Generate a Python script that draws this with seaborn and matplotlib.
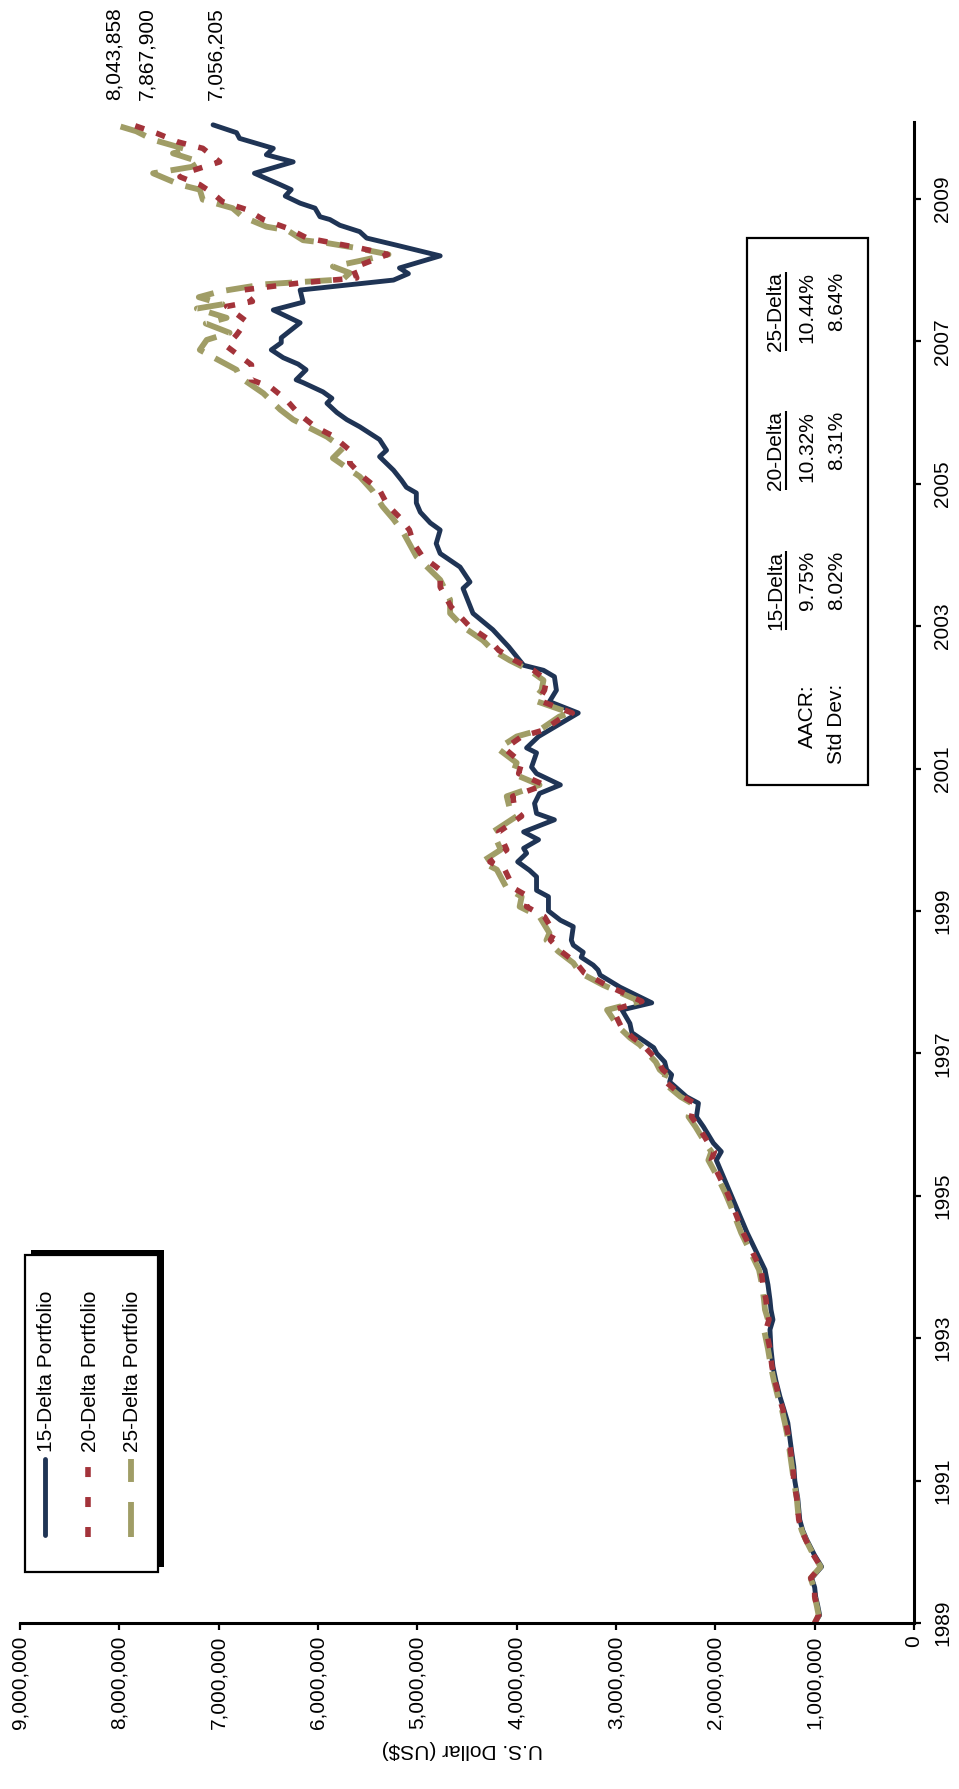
import matplotlib
matplotlib.use("Agg")
import matplotlib.pyplot as plt
import numpy as np
import pandas as pd
import seaborn as sns
from matplotlib.patches import Rectangle

# ---------------- data (values in millions of US$) ----------------
years_15 = [1989.00, 1989.11, 1989.25, 1989.37, 1989.50, 1989.63, 1989.79, 1989.95, 1990.17, 1990.30,
            1990.45, 1990.60, 1990.75, 1991.00, 1991.20, 1991.39, 1991.60, 1991.81, 1992.00, 1992.18,
            1992.40, 1992.60, 1992.85, 1993.12, 1993.26, 1993.40, 1993.54, 1993.75, 1993.96, 1994.19,
            1994.48, 1994.84, 1995.04, 1995.27, 1995.50, 1995.62, 1995.74, 1995.97, 1996.11, 1996.30,
            1996.39, 1996.60, 1996.70, 1996.77, 1996.88, 1997.00, 1997.08, 1997.29, 1997.42, 1997.61,
            1997.71, 1997.93, 1998.10, 1998.17, 1998.24, 1998.35, 1998.42, 1998.52, 1998.59, 1998.78,
            1998.87, 1999.00, 1999.20, 1999.29, 1999.48, 1999.57, 1999.69, 1999.81, 1999.88, 2000.00,
            2000.11, 2000.28, 2000.37, 2000.51, 2000.65, 2000.77, 2000.93, 2001.02, 2001.22, 2001.29,
            2001.45, 2001.64, 2001.78, 2001.94, 2002.10, 2002.29, 2002.38, 2002.45, 2002.71, 2002.95,
            2003.18, 2003.53, 2003.62, 2003.83, 2004.02, 2004.16, 2004.35, 2004.45, 2004.60, 2004.73,
            2004.87, 2004.95, 2005.05, 2005.19, 2005.38, 2005.47, 2005.62, 2005.80, 2005.90, 2006.00,
            2006.13, 2006.20, 2006.29, 2006.42, 2006.46, 2006.60, 2006.68, 2006.77, 2006.88, 2006.98,
            2007.05, 2007.26, 2007.44, 2007.55, 2007.72, 2007.86, 2007.95, 2008.03, 2008.20, 2008.35,
            2008.45, 2008.54, 2008.63, 2008.71, 2008.75, 2008.87, 2008.94, 2009.04, 2009.13, 2009.20,
            2009.36, 2009.52, 2009.62, 2009.71, 2009.85, 2009.93, 2010.04]
dollars_15 = [1.00, 0.95, 0.97, 0.99, 1.00, 1.03, 0.93, 1.00, 1.08, 1.12,
              1.15, 1.16, 1.17, 1.20, 1.21, 1.23, 1.25, 1.27, 1.31, 1.35,
              1.39, 1.42, 1.44, 1.45, 1.42, 1.44, 1.45, 1.47, 1.50, 1.58,
              1.68, 1.79, 1.85, 1.92, 1.99, 1.94, 2.02, 2.12, 2.19, 2.17,
              2.29, 2.46, 2.44, 2.49, 2.51, 2.59, 2.62, 2.84, 2.86, 2.94,
              2.64, 2.96, 3.16, 3.18, 3.23, 3.35, 3.33, 3.43, 3.45, 3.43,
              3.56, 3.68, 3.68, 3.80, 3.80, 3.87, 3.99, 3.90, 3.93, 3.78,
              3.93, 3.62, 3.80, 3.82, 3.77, 3.56, 3.80, 3.85, 3.80, 3.90,
              3.78, 3.55, 3.38, 3.67, 3.60, 3.62, 3.73, 3.93, 4.08, 4.24,
              4.44, 4.54, 4.47, 4.57, 4.77, 4.81, 4.77, 4.87, 4.97, 5.01,
              5.01, 5.11, 5.16, 5.24, 5.38, 5.31, 5.38, 5.58, 5.71, 5.81,
              5.91, 5.86, 5.95, 6.15, 6.22, 6.12, 6.20, 6.35, 6.47, 6.37,
              6.37, 6.18, 6.45, 6.15, 6.18, 5.24, 5.09, 5.18, 4.77, 5.21,
              5.51, 5.58, 5.78, 5.88, 5.98, 6.03, 6.18, 6.33, 6.27, 6.38,
              6.64, 6.25, 6.52, 6.45, 6.79, 6.82, 7.056205]

years_20 = [1989.00, 1989.11, 1989.25, 1989.37, 1989.50, 1989.63, 1989.79, 1989.95, 1990.17, 1990.30,
            1990.45, 1990.60, 1990.75, 1991.00, 1991.20, 1991.39, 1991.60, 1991.81, 1992.00, 1992.18,
            1992.40, 1992.60, 1992.85, 1993.12, 1993.26, 1993.40, 1993.54, 1993.75, 1993.96, 1994.19,
            1994.48, 1994.84, 1995.04, 1995.27, 1995.50, 1995.62, 1995.74, 1995.97, 1996.11, 1996.30,
            1996.39, 1996.60, 1996.70, 1996.77, 1996.88, 1997.00, 1997.12, 1997.22, 1997.38, 1997.61,
            1997.73, 1997.96, 1998.13, 1998.27, 1998.43, 1998.59, 1998.69, 1998.92, 1999.06, 1999.20,
            1999.32, 1999.58, 1999.69, 1999.86, 2000.11, 2000.33, 2000.44, 2000.61, 2000.77, 2000.93,
            2001.08, 2001.28, 2001.45, 2001.54, 2001.73, 2001.78, 2001.96, 2002.10, 2002.24, 2002.38,
            2002.52, 2002.66, 2002.80, 2002.99, 2003.27, 2003.55, 2003.79, 2003.98, 2004.17, 2004.35,
            2004.53, 2004.70, 2004.91, 2005.10, 2005.29, 2005.47, 2005.67, 2005.80, 2005.99, 2006.18,
            2006.35, 2006.46, 2006.67, 2006.93, 2007.09, 2007.28, 2007.49, 2007.56, 2007.72, 2007.82,
            2007.89, 2008.03, 2008.22, 2008.31, 2008.45, 2008.59, 2008.71, 2008.85, 2008.96, 2009.08,
            2009.20, 2009.31, 2009.40, 2009.52, 2009.71, 2009.80, 2009.92, 2010.04]
dollars_20 = [1.00, 0.96, 0.98, 1.00, 1.00, 1.04, 0.94, 1.01, 1.09, 1.13,
              1.16, 1.17, 1.18, 1.21, 1.22, 1.24, 1.26, 1.29, 1.32, 1.36,
              1.40, 1.43, 1.45, 1.49, 1.46, 1.48, 1.49, 1.52, 1.54, 1.62,
              1.72, 1.82, 1.88, 1.96, 2.04, 2.01, 2.07, 2.17, 2.24, 2.21,
              2.32, 2.50, 2.47, 2.53, 2.57, 2.65, 2.73, 2.83, 2.95, 3.03,
              2.74, 3.10, 3.32, 3.40, 3.55, 3.66, 3.62, 3.72, 3.90, 3.88,
              4.03, 4.12, 4.27, 4.10, 4.18, 3.95, 4.02, 4.04, 3.72, 3.98,
              3.95, 4.12, 3.95, 3.73, 3.53, 3.44, 3.78, 3.72, 3.70, 3.83,
              4.02, 4.18, 4.27, 4.47, 4.66, 4.77, 4.77, 4.95, 5.04, 5.08,
              5.18, 5.30, 5.38, 5.55, 5.68, 5.68, 5.85, 6.03, 6.20, 6.32,
              6.47, 6.67, 6.67, 6.92, 6.82, 6.72, 6.92, 6.66, 6.76, 6.18,
              5.61, 5.65, 5.30, 5.58, 6.11, 6.31, 6.55, 6.72, 6.96, 7.06,
              7.19, 7.39, 7.26, 6.99, 7.16, 7.41, 7.62, 7.867900]

years_25 = [1989.00, 1989.11, 1989.25, 1989.37, 1989.50, 1989.63, 1989.79, 1989.95, 1990.17, 1990.30,
            1990.45, 1990.60, 1990.75, 1991.00, 1991.20, 1991.39, 1991.60, 1991.81, 1992.00, 1992.18,
            1992.40, 1992.60, 1992.85, 1993.12, 1993.26, 1993.40, 1993.54, 1993.75, 1993.96, 1994.19,
            1994.48, 1994.84, 1995.04, 1995.27, 1995.50, 1995.62, 1995.74, 1995.97, 1996.11, 1996.30,
            1996.39, 1996.60, 1996.70, 1996.77, 1996.88, 1997.00, 1997.12, 1997.22, 1997.38, 1997.61,
            1997.73, 1997.96, 1998.13, 1998.27, 1998.43, 1998.59, 1998.69, 1998.92, 1999.06, 1999.20,
            1999.32, 1999.58, 1999.69, 1999.86, 2000.11, 2000.33, 2000.44, 2000.61, 2000.77, 2000.93,
            2001.08, 2001.28, 2001.45, 2001.54, 2001.73, 2001.78, 2001.96, 2002.10, 2002.24, 2002.38,
            2002.52, 2002.66, 2002.80, 2002.99, 2003.18, 2003.37, 2003.65, 2003.98, 2004.31, 2004.50,
            2004.68, 2004.90, 2005.10, 2005.36, 2005.50, 2005.66, 2005.90, 2006.04, 2006.27, 2006.50,
            2006.60, 2006.78, 2006.88, 2007.02, 2007.12, 2007.25, 2007.33, 2007.46, 2007.52, 2007.62,
            2007.70, 2007.80, 2007.87, 2007.96, 2008.05, 2008.15, 2008.22, 2008.31, 2008.38, 2008.42,
            2008.56, 2008.61, 2008.75, 2008.87, 2008.99, 2009.13, 2009.20, 2009.36, 2009.45, 2009.52,
            2009.64, 2009.69, 2009.83, 2009.95, 2010.04]
dollars_25 = [1.00, 0.96, 0.98, 1.00, 1.01, 1.04, 0.94, 1.01, 1.09, 1.13,
              1.16, 1.17, 1.18, 1.21, 1.23, 1.25, 1.27, 1.30, 1.33, 1.37,
              1.41, 1.44, 1.47, 1.51, 1.47, 1.50, 1.51, 1.53, 1.56, 1.64,
              1.74, 1.84, 1.90, 1.98, 2.07, 2.04, 2.10, 2.20, 2.27, 2.24,
              2.35, 2.53, 2.50, 2.56, 2.60, 2.68, 2.76, 2.86, 2.98, 3.09,
              2.76, 3.13, 3.36, 3.43, 3.58, 3.70, 3.67, 3.77, 3.97, 3.95,
              4.10, 4.20, 4.35, 4.16, 4.24, 4.00, 4.07, 4.10, 3.77, 4.04,
              4.00, 4.19, 4.00, 3.77, 3.57, 3.46, 3.83, 3.75, 3.73, 3.87,
              4.07, 4.24, 4.34, 4.54, 4.67, 4.67, 4.77, 5.01, 5.14, 5.24,
              5.35, 5.45, 5.58, 5.85, 5.75, 5.91, 6.25, 6.38, 6.55, 6.79,
              6.82, 7.06, 7.19, 7.12, 6.89, 7.13, 6.92, 7.22, 6.96, 7.20,
              6.99, 6.55, 5.75, 5.68, 5.85, 5.51, 5.29, 5.61, 5.91, 6.15,
              6.31, 6.52, 6.76, 6.86, 7.16, 7.19, 7.39, 7.66, 7.27, 7.19,
              7.46, 7.31, 7.66, 7.83, 8.043858]

series_names = ["15-Delta Portfolio", "20-Delta Portfolio", "25-Delta Portfolio"]
year_ticks = [1989, 1991, 1993, 1995, 1997, 1999, 2001, 2003, 2005, 2007, 2009]
dollar_ticks = [0, 1e6, 2e6, 3e6, 4e6, 5e6, 6e6, 7e6, 8e6, 9e6]
dollar_tick_labels = ["0", "1,000,000", "2,000,000", "3,000,000", "4,000,000",
                      "5,000,000", "6,000,000", "7,000,000", "8,000,000", "9,000,000"]
axis_label = "U.S. Dollar (US$)"
stat_headers = ["15-Delta", "20-Delta", "25-Delta"]
stat_row_labels = ["AACR:", "Std Dev:"]
aacr_values = ["9.75%", "10.32%", "10.44%"]
stdev_values = ["8.02%", "8.31%", "8.64%"]

# ---------------- style ----------------
sns.set_theme(style="ticks")
plt.rcParams["font.family"] = ["Liberation Sans", "DejaVu Sans"]
plt.rcParams["font.size"] = 15

W, H = 959, 1789
fig = plt.figure(figsize=(W / 100, H / 100), dpi=100)
fig.patch.set_facecolor("white")

X0, X9 = 914, 20      # pixel x of 0 and 9,000,000
YB, YT = 1623, 122    # pixel y of bottom (1989) and top of axis
ax = fig.add_axes([X9 / W, (H - YB) / H, (X0 - X9) / W, (YB - YT) / H])
ax.set_facecolor("white")

colors = ["#1F3455", "#A3333A", "#A09D66"]
widths = [3.5, 4.0, 4.2]
styles = ["-", (0, (1.7, 2.3)), (0, (4.6, 2.2))]

frames = [
    pd.DataFrame({"year": years_15, "dollars": np.array(dollars_15) * 1e6}),
    pd.DataFrame({"year": years_20, "dollars": np.array(dollars_20) * 1e6}),
    pd.DataFrame({"year": years_25, "dollars": np.array(dollars_25) * 1e6}),
]

draw_order = [0, 2, 1]
for i in draw_order:
    sns.lineplot(data=frames[i], x="dollars", y="year", orient="y", sort=False,
                 estimator=None, ax=ax, color=colors[i], linewidth=widths[i],
                 linestyle=styles[i], solid_joinstyle="round", solid_capstyle="round",
                 dash_capstyle="butt", legend=False)

ax.set_xlim(9e6, 0)
ax.set_ylim(1989, 2010.08)

ax.set_xticks(dollar_ticks)
ax.set_xticklabels(dollar_tick_labels, rotation=90)
ax.yaxis.tick_right()
ax.set_yticks(year_ticks)
ax.set_yticklabels([str(y) for y in year_ticks], rotation=90, va="center")
ax.tick_params(axis="x", direction="out", length=5, width=1.6, pad=4,
               labelsize=15, colors="black", bottom=True, top=False)
ax.tick_params(axis="y", direction="out", length=5, width=1.6, pad=9,
               labelsize=15, colors="black", right=True, left=False)
for s in ["left", "top"]:
    ax.spines[s].set_visible(False)
for s in ["bottom", "right"]:
    ax.spines[s].set_visible(True)
    ax.spines[s].set_linewidth(2.2)
    ax.spines[s].set_color("black")
ax.grid(False)

ax.set_ylabel("")
ax.set_xlabel(axis_label, rotation=180, fontsize=15, color="black")
ax.xaxis.set_label_coords((462 - X9) / (X0 - X9), -(1750 - YB) / (YB - YT))
ax.xaxis.label.set_va("center")

# end-value labels
label_offsets = [3, 14, -1]
for i in range(3):
    fr = frames[i]
    v = fr["dollars"].iloc[-1]
    yv = fr["year"].iloc[-1]
    ax.annotate(f"{v:,.0f}", xy=(v, yv), xytext=(label_offsets[i], 25),
                textcoords="offset pixels", rotation=90, ha="center", va="bottom",
                fontsize=15, color="black", annotation_clip=False)

# ---------------- overlay in pixel coordinates ----------------
ov = fig.add_axes([0, 0, 1, 1])
ov.set_xlim(0, W)
ov.set_ylim(H, 0)
ov.axis("off")
ov.patch.set_alpha(0)

# legend box with shadow
ov.add_patch(Rectangle((31, 1250), 133, 317, facecolor="black", edgecolor="black", lw=0))
ov.add_patch(Rectangle((25, 1255), 133, 317, facecolor="white", edgecolor="black", lw=1.6))
leg_x = [45, 88, 131]
leg_styles = ["-", (0, (10 / 5.56, 20 / 5.56)), (0, (35 / 5.83, 20 / 5.83))]
for i in range(3):
    ov.plot([leg_x[i], leg_x[i]], [1535 if i == 0 else 1537, 1459], color=colors[i],
            lw=widths[i], linestyle=leg_styles[i], solid_capstyle="round",
            dash_capstyle="butt")
    ov.text(leg_x[i] + 2, 1452, series_names[i], rotation=90, ha="center",
            va="bottom", fontsize=15, color="black")

# statistics box
ov.add_patch(Rectangle((747, 238), 121, 547, facecolor="white", edgecolor="black", lw=1.6))
col_top = [551, 411, 272]
header_texts = []
for j in range(3):
    t = ov.text(776, col_top[j], stat_headers[j], rotation=90, ha="center", va="top",
                fontsize=15, color="black")
    header_texts.append(t)
    ov.text(807, col_top[j], aacr_values[j], rotation=90, ha="center", va="top",
            fontsize=15, color="black")
    ov.text(837, col_top[j], stdev_values[j], rotation=90, ha="center", va="top",
            fontsize=15, color="black")
ov.text(807, 684, stat_row_labels[0], rotation=90, ha="center", va="top",
        fontsize=15, color="black")
ov.text(837, 684, stat_row_labels[1], rotation=90, ha="center", va="top",
        fontsize=15, color="black")

fig.canvas.draw()
renderer = fig.canvas.get_renderer()
for t in header_texts:
    bb = t.get_window_extent(renderer)
    ov.plot([786, 786], [H - bb.y1, H - bb.y0], color="black", lw=1.5,
            solid_capstyle="butt")

fig.savefig("out.png", dpi=100, facecolor="white")
